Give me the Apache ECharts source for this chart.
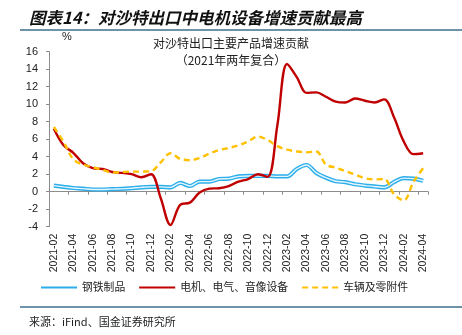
<!DOCTYPE html>
<html>
<head>
<meta charset="utf-8">
<script src="https://cdn.jsdelivr.net/npm/echarts@6/dist/echarts.min.js"></script>
<style>
  html, body { margin: 0; padding: 0; background: #fff; }
  #chart { width: 462px; height: 335px; }
</style>
</head>
<body>
<div id="chart"></div>
<script>
// Monthly contribution to export growth to Saudi Arabia (%, two-year compound)
var months = [
  '2021-02','2021-03','2021-04','2021-05','2021-06','2021-07','2021-08','2021-09','2021-10','2021-11','2021-12',
  '2022-01','2022-02','2022-03','2022-04','2022-05','2022-06','2022-07','2022-08','2022-09','2022-10','2022-11','2022-12',
  '2023-01','2023-02','2023-03','2023-04','2023-05','2023-06','2023-07','2023-08','2023-09','2023-10','2023-11','2023-12',
  '2024-01','2024-02','2024-03','2024-04'
];

// 钢铁制品
var steel = [
  0.70, 0.55, 0.42, 0.35, 0.25, 0.25, 0.30, 0.32, 0.40, 0.50, 0.55,
  0.55, 0.50, 1.00, 0.65, 1.15, 1.15, 1.45, 1.50, 1.75, 1.80, 1.80, 1.80,
  1.75, 1.75, 2.60, 3.05, 2.15, 1.60, 1.20, 1.10, 0.85, 0.70, 0.60, 0.50,
  1.10, 1.55, 1.50, 1.25
];

// 电机、电气、音像设备
var electrical = [
  7.20, 5.30, 4.45, 3.25, 2.70, 2.60, 2.25, 2.15, 2.00, 1.65, 2.00,
  -0.75, -3.80, -1.50, -1.25, -0.10, 0.35, 0.40, 0.65, 1.15, 1.45, 2.00, 1.70,
  7.60, 14.60, 13.10, 11.30, 11.35, 10.85, 10.30, 10.20, 10.65, 10.40, 10.20, 10.55,
  8.50, 5.75, 4.30, 4.40
];

// 车辆及零附件
var vehicles = [
  7.40, 5.70, 3.70, 3.10, 2.80, 2.50, 2.20, 2.25, 2.30, 2.30, 2.35,
  3.35, 4.40, 3.75, 3.60, 3.85, 4.35, 4.75, 5.00, 5.30, 5.75, 6.30, 5.90,
  5.20, 4.80, 4.60, 4.50, 4.60, 3.10, 2.75, 2.35, 1.95, 1.55, 1.40, 1.45,
  -0.30, -1.00, 1.10, 2.70
];

var yTicks = { min: -4, max: 16, step: 2 };

var seriesNames = ['钢铁制品', '电机、电气、音像设备', '车辆及零附件'];

var chart = echarts.init(document.getElementById('chart'), null, { renderer: 'canvas' });

var cjk = '"Noto Sans CJK SC", sans-serif';
var latin = '"Liberation Sans", Arial, sans-serif';

var option = {
  backgroundColor: '#ffffff',
  animation: false,
  title: [
    {
      text: '图表14：对沙特出口中电机设备增速贡献最高',
      left: 24, top: 4,
      textStyle: { fontFamily: cjk, fontSize: 16.5, fontWeight: 'bold', fontStyle: 'italic', color: '#111' }
    },
    {
      text: '对沙特出口主要产品增速贡献',
      left: 226, top: 32, textAlign: 'center',
      textStyle: { fontFamily: cjk, fontSize: 12, fontWeight: 'normal', color: '#222' }
    },
    {
      text: '（2021年两年复合）',
      left: 226, top: 49, textAlign: 'center',
      textStyle: { fontFamily: cjk, fontSize: 12, fontWeight: 'normal', color: '#222' }
    },
    {
      text: '%',
      left: 57, top: 26,
      textStyle: { fontFamily: latin, fontSize: 11, fontWeight: 'normal', color: '#222' }
    },
    {
      text: '来源：iFind、国金证券研究所',
      left: 24, top: 311,
      textStyle: { fontFamily: cjk, fontSize: 11, fontWeight: 'normal', color: '#222' }
    }
  ],
  graphic: [
    { type: 'line', shape: { x1: 20, y1: 30, x2: 462, y2: 30 }, style: { stroke: '#3E6E8E', lineWidth: 1.5 } },
    { type: 'line', shape: { x1: 20, y1: 307, x2: 462, y2: 307 }, style: { stroke: '#3E6E8E', lineWidth: 1.5 } }
  ],
  legend: {
    data: seriesNames,
    left: 40, top: 282, padding: 0,
    itemWidth: 36, itemHeight: 4, itemGap: 13,
    itemStyle: { opacity: 0 },
    textStyle: { fontFamily: cjk, fontSize: 10.8, color: '#222' }
  },
  grid: { left: 49, right: 34, top: 51.7, bottom: 108.3, containLabel: false },
  xAxis: [
    {
      type: 'category', data: months, boundaryGap: true, position: 'bottom',
      axisLine: { show: false, onZero: false },
      axisTick: { show: false },
      axisLabel: {
        interval: 1, rotate: 90, margin: 7,
        fontFamily: latin, fontSize: 10.5, color: '#222'
      },
      splitLine: { show: false }
    },
    {
      type: 'category', data: months, boundaryGap: true, position: 'top',
      axisLine: { show: true, onZero: true, lineStyle: { color: '#8c8c8c', width: 1 } },
      axisTick: { show: true, interval: 1, inside: true, length: 3, lineStyle: { color: '#8c8c8c' } },
      axisLabel: { show: false },
      splitLine: { show: false }
    }
  ],
  yAxis: {
    type: 'value', min: yTicks.min, max: yTicks.max, interval: yTicks.step,
    axisLine: { show: true, lineStyle: { color: '#8c8c8c', width: 1 } },
    axisTick: { show: true, length: 3, lineStyle: { color: '#8c8c8c' } },
    axisLabel: { fontFamily: latin, fontSize: 11, color: '#222', margin: 11 },
    splitLine: { show: false }
  },
  series: [
    {
      name: seriesNames[0], type: 'line', data: steel, smooth: 0.35,
      symbol: 'none', color: '#2BAEEA',
      lineStyle: { width: 4.2, color: '#2BAEEA' }, z: 2
    },
    {
      name: '钢铁制品-inner', type: 'line', data: steel, smooth: 0.35,
      symbol: 'none', silent: true, color: '#E6F6FD',
      lineStyle: { width: 1.4, color: '#E6F6FD' }, z: 3
    },
    {
      name: seriesNames[1], type: 'line', data: electrical, smooth: 0.35,
      symbol: 'none', color: '#C00000',
      lineStyle: { width: 2.4, color: '#C00000' }, z: 4
    },
    {
      name: seriesNames[2], type: 'line', data: vehicles, smooth: 0.35,
      symbol: 'none', color: '#FFC000',
      lineStyle: { width: 2.4, color: '#FFC000', type: [6, 4] }, z: 5
    }
  ]
};

chart.setOption(option);
</script>
</body>
</html>
